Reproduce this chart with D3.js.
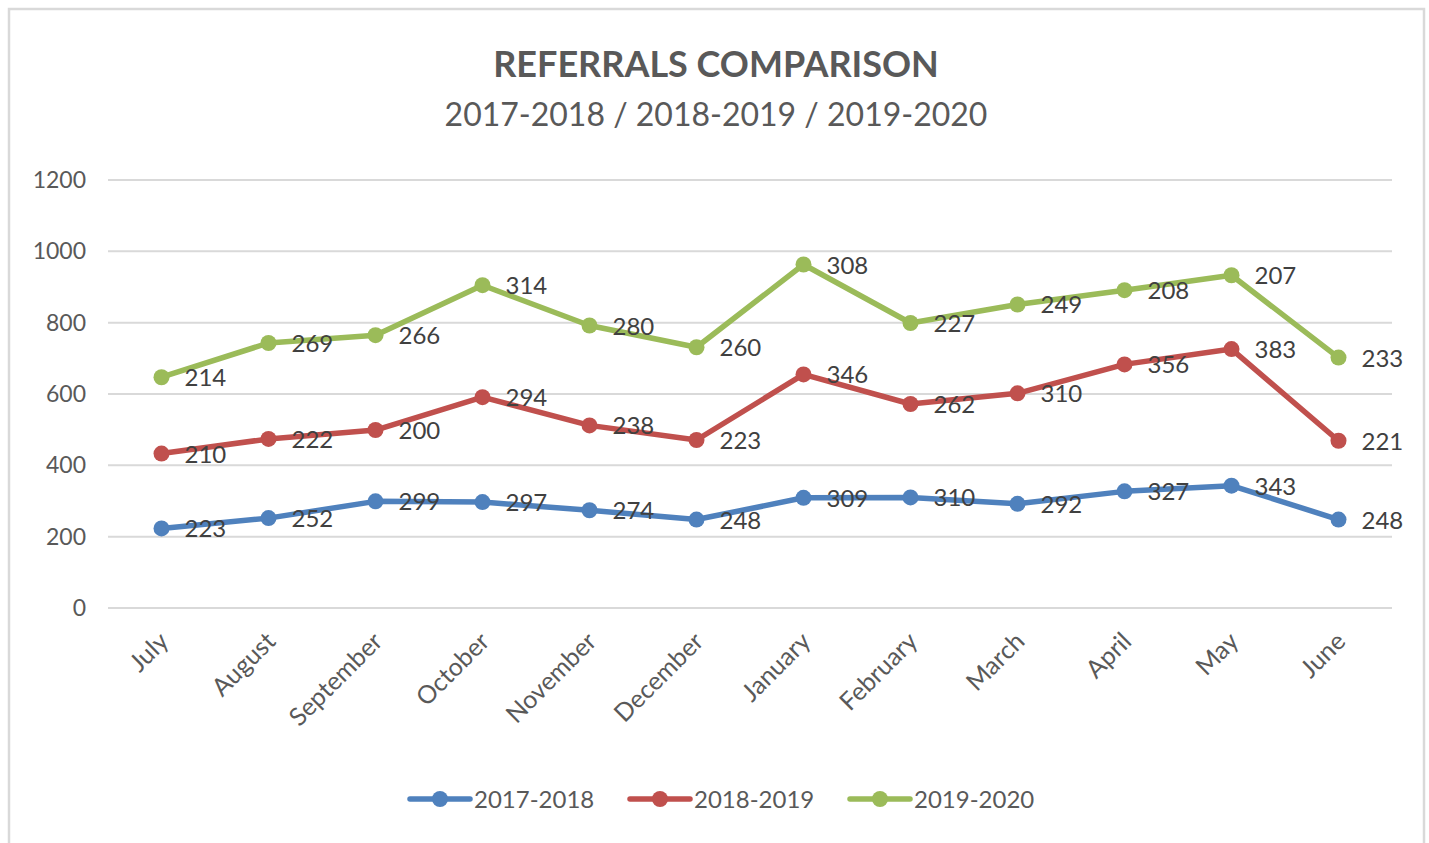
<!DOCTYPE html>
<html>
<head>
<meta charset="utf-8">
<script src="https://cdn.jsdelivr.net/npm/d3@7"></script>
<style>
  html, body { margin: 0; padding: 0; background: #fff; }
  svg { display: block; }
  text { font-family: Lato, "Open Sans", "Liberation Sans", sans-serif; fill: #595959; }
</style>
</head>
<body>
<svg id="chart" width="1429" height="843"></svg>
<script>
// Referral counts per month, three financial years (drawn as a stacked line chart)
const months = ["July", "August", "September", "October", "November", "December",
                "January", "February", "March", "April", "May", "June"];
const seriesNames = ["2017-2018", "2018-2019", "2019-2020"];
const values2017 = [223, 252, 299, 297, 274, 248, 309, 310, 292, 327, 343, 248];
const values2018 = [210, 222, 200, 294, 238, 223, 346, 262, 310, 356, 383, 221];
const values2019 = [214, 269, 266, 314, 280, 260, 308, 227, 249, 208, 207, 233];
const yTicks = [0, 200, 400, 600, 800, 1000, 1200];
const colors = ["#4F81BD", "#C0504D", "#9BBB59"];

const svg = d3.select("#chart");

// outer chart frame
svg.append("rect")
  .attr("x", 9).attr("y", 9).attr("width", 1415).attr("height", 860)
  .attr("fill", "#fff").attr("stroke", "#D9D9D9").attr("stroke-width", 2.5);

const plot = { left: 108, right: 1392, top: 180, bottom: 608 };

const x = d3.scalePoint().domain(months).range([plot.left, plot.right]).padding(0.5);
const y = d3.scaleLinear().domain([0, 1200]).range([plot.bottom, plot.top]);

// titles
svg.append("text").attr("x", 716).attr("y", 77).attr("text-anchor", "middle")
  .style("font-size", "36px").style("font-weight", "bold")
  .text("REFERRALS COMPARISON");
svg.append("text").attr("x", 716).attr("y", 126).attr("text-anchor", "middle")
  .style("font-size", "32px")
  .text("2017-2018 / 2018-2019 / 2019-2020");

// horizontal gridlines
svg.append("g").selectAll("line").data(yTicks).join("line")
  .attr("x1", plot.left).attr("x2", plot.right)
  .attr("y1", d => y(d)).attr("y2", d => y(d))
  .attr("stroke", "#D9D9D9").attr("stroke-width", 2);

// y axis labels
const yAxis = d3.axisLeft(y).tickValues(yTicks).tickFormat(d3.format("d"))
  .tickSize(0).tickPadding(22);
const yg = svg.append("g").attr("transform", `translate(${plot.left},0)`).call(yAxis);
yg.select(".domain").remove();
yg.selectAll("text").style("font-size", "23px").style("fill", "#595959")
  .style("font-family", "Lato, 'Open Sans', sans-serif");

// x axis labels, rotated
const xAxis = d3.axisBottom(x).tickSize(0).tickPadding(0);
const xg = svg.append("g").attr("transform", `translate(0,${plot.bottom})`).call(xAxis);
xg.select(".domain").remove();
xg.selectAll("text")
  .style("font-size", "25px").style("fill", "#595959")
  .style("font-family", "Lato, 'Open Sans', sans-serif")
  .attr("text-anchor", "end")
  .attr("dy", null)
  .attr("y", 0)
  .attr("transform", "translate(8,35) rotate(-45)");

// stacked series
const raw = [values2017, values2018, values2019];
const table = months.map((m, i) => {
  const row = { month: m };
  seriesNames.forEach((s, k) => { row[s] = raw[k][i]; });
  return row;
});
const stacked = d3.stack().keys(seriesNames)(table);

const line = d3.line()
  .x(d => x(d.data.month))
  .y(d => y(d[1]));

stacked.forEach((layer, k) => {
  const g = svg.append("g");
  g.append("path").datum(layer)
    .attr("fill", "none").attr("stroke", colors[k]).attr("stroke-width", 5.5)
    .attr("stroke-linejoin", "round").attr("stroke-linecap", "round")
    .attr("d", line);
  g.selectAll("circle").data(layer).join("circle")
    .attr("cx", d => x(d.data.month)).attr("cy", d => y(d[1]))
    .attr("r", 8).attr("fill", colors[k]);
});

// value labels (each series' own value, beside its point)
stacked.forEach((layer, k) => {
  svg.append("g").selectAll("text").data(layer).join("text")
    .attr("x", d => x(d.data.month) + 23)
    .attr("y", d => y(d[1]) + 9)
    .style("font-size", "24px").style("fill", "#404040")
    .text(d => d.data[layer.key]);
});

// legend
const legendX = [408, 628, 848];
seriesNames.forEach((s, k) => {
  const g = svg.append("g").attr("transform", `translate(${legendX[k]},799)`);
  g.append("line").attr("x1", 2).attr("x2", 62).attr("y1", 0).attr("y2", 0)
    .attr("stroke", colors[k]).attr("stroke-width", 5.5).attr("stroke-linecap", "round");
  g.append("circle").attr("cx", 32).attr("cy", 0).attr("r", 8).attr("fill", colors[k]);
  g.append("text").attr("x", 66).attr("y", 9).style("font-size", "24px").text(s);
});
</script>
</body>
</html>
